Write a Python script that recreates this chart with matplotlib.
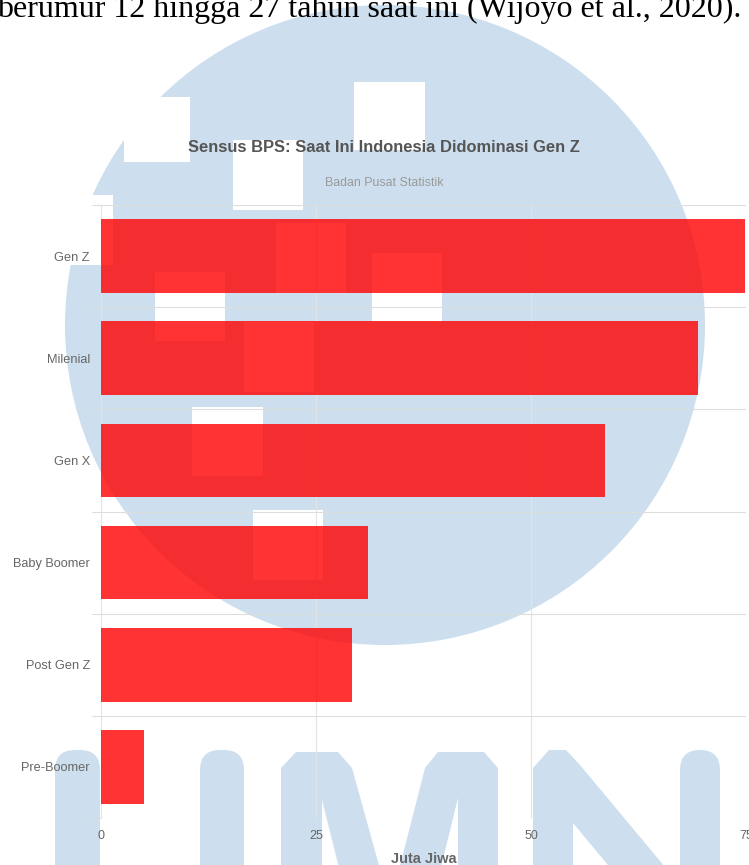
import numpy as np
import matplotlib
matplotlib.use('Agg')
import matplotlib.pyplot as plt
from matplotlib.patches import Circle, Rectangle, Polygon, FancyBboxPatch

categories = ['Gen Z', 'Milenial', 'Gen X', 'Baby Boomer', 'Post Gen Z', 'Pre-Boomer']
values = [74.93, 69.38, 58.65, 31.01, 29.17, 5.03]
xticks = [0, 25, 50, 75]

title = 'Sensus BPS: Saat Ini Indonesia Didominasi Gen Z'
subtitle = 'Badan Pusat Statistik'
xlabel = 'Juta Jiwa'
caption = 'berumur 12 hingga 27 tahun saat ini (Wijoyo et al., 2020).'

W, H = 749, 865
plt.rcParams['font.family'] = ['Liberation Sans', 'DejaVu Sans']
fig = plt.figure(figsize=(W / 100, H / 100), dpi=100)

# watermark behind the chart (pixel coords, y down)
wm = '#cddfee'
bg = fig.add_axes([0, 0, 1, 1], zorder=0)
bg.set_xlim(0, W)
bg.set_ylim(H, 0)
bg.axis('off')
bg.add_patch(Circle((385, 325), 320, color=wm, lw=0))
holes = [(124, 190, 97, 162), (233, 303, 140, 210), (354, 425, 82, 150),
         (43, 113, 195, 265), (155, 225, 272, 341), (372, 442, 253, 322),
         (276, 346, 223, 293), (244, 314, 322, 392), (192, 263, 407, 476),
         (253, 323, 510, 580)]
for x0, x1, y0, y1 in holes:
    bg.add_patch(Rectangle((x0, y0), x1 - x0, y1 - y0, color='white', lw=0))
for x0, w in [(55, 45), (200, 44), (680, 40)]:
    bg.add_patch(FancyBboxPatch((x0, 750), w, 200, boxstyle='round,pad=0,rounding_size=20',
                                color=wm, lw=0))
bg.add_patch(Polygon([(281, 900), (281, 768), (296, 752), (338, 752), (352, 768), (390, 905),
                      (425, 768), (438, 752), (484, 752), (498, 768), (498, 900), (458, 900),
                      (458, 798), (433, 900), (347, 900), (322, 800), (322, 900)],
                     color=wm, lw=0))
bg.add_patch(Polygon([(533, 900), (533, 768), (549, 750), (566, 750), (580, 765), (680, 885),
                      (680, 900), (637, 900), (573, 823), (573, 900)], color=wm, lw=0))

# chart
ax = fig.add_axes([101 / W, 1 - 818 / H, 645 / W, 613 / H], zorder=1)
ax.patch.set_alpha(0)
y = np.arange(len(categories))
ax.barh(y, values, height=0.72, color=(1, 0, 0, 0.8), zorder=2)
ax.set_xlim(0, 75)
ax.set_ylim(len(categories) - 0.5, -0.5)
for s in ax.spines.values():
    s.set_visible(False)

ax.set_xticks(xticks)
ax.tick_params(axis='x', length=0, pad=8.5, labelsize=9, labelcolor='#666666')
ax.grid(axis='x', color='#e3e3e3', lw=0.8)

ax.set_yticks(y, categories)
ax.tick_params(axis='y', which='major', length=0, pad=8, labelsize=9.2, labelcolor='#666666')
ax.set_yticks(np.arange(-0.5, len(categories)), minor=True)
ax.tick_params(axis='y', which='minor', length=6.5, width=0.8, color='#dddddd')
ax.grid(axis='y', which='minor', color='#dddddd', lw=0.8)
ax.set_axisbelow(True)

ax.set_xlabel(xlabel, fontsize=10.5, fontweight='bold', color='#666666', labelpad=7)

fig.text(384 / W, 1 - 148 / H, title, ha='center', va='center', fontsize=11.9,
         fontweight='bold', color='#555555')
fig.text(384 / W, 1 - 183 / H, subtitle, ha='center', va='center', fontsize=8.9,
         color='#999999')
fig.text(-3 / W, 1 - 17 / H, caption, ha='left', va='baseline', fontsize=23,
         family='Liberation Serif', color='black')

fig.savefig('out.png', dpi=100)
